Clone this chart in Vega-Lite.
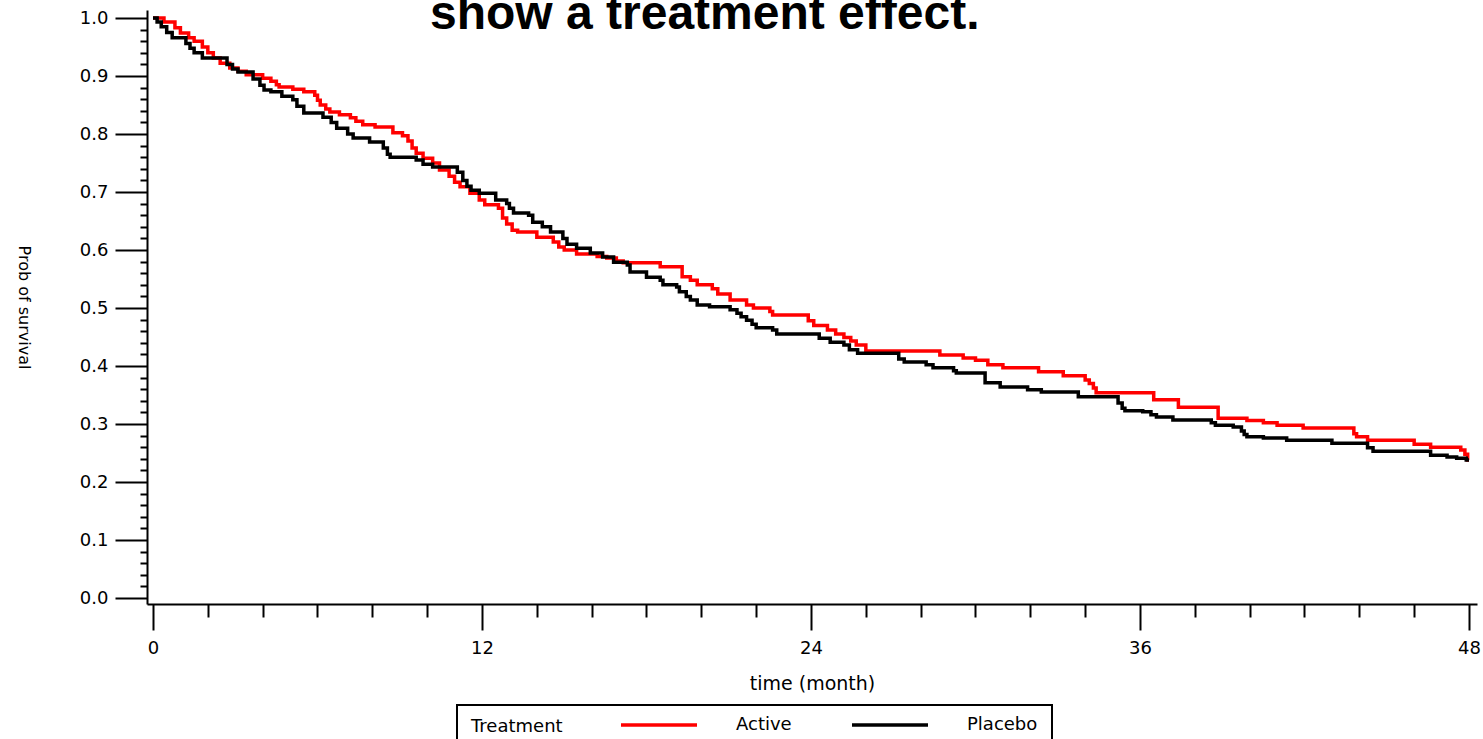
{
  "$schema": "https://vega.github.io/schema/vega-lite/v6.json",
  "width": 1330,
  "height": 594,
  "autosize": {"type": "none"},
  "padding": {"left": 147, "top": 10, "right": 6, "bottom": 135},
  "background": "white",
  "view": {"stroke": null},
  "config": {"legend": {"strokeWidth": 2}},
  "title": {
    "text": "show a treatment effect.",
    "font": "Liberation Sans",
    "fontSize": 48,
    "fontWeight": "bold",
    "color": "black",
    "anchor": "start",
    "frame": "group",
    "dx": 283,
    "offset": -68,
    "baseline": "alphabetic"
  },
  "data": {
    "values": [
      {"group": "Active", "t": 0, "s": 1.0},
      {"group": "Active", "t": 0.4, "s": 0.993},
      {"group": "Active", "t": 0.8, "s": 0.983},
      {"group": "Active", "t": 1.0, "s": 0.974},
      {"group": "Active", "t": 1.3, "s": 0.966},
      {"group": "Active", "t": 1.5, "s": 0.96},
      {"group": "Active", "t": 1.8, "s": 0.95},
      {"group": "Active", "t": 2.0, "s": 0.94},
      {"group": "Active", "t": 2.2, "s": 0.931},
      {"group": "Active", "t": 2.45, "s": 0.922},
      {"group": "Active", "t": 2.8, "s": 0.914},
      {"group": "Active", "t": 3.1, "s": 0.908},
      {"group": "Active", "t": 3.4, "s": 0.902},
      {"group": "Active", "t": 4.0, "s": 0.896},
      {"group": "Active", "t": 4.3, "s": 0.891},
      {"group": "Active", "t": 4.5, "s": 0.885},
      {"group": "Active", "t": 4.6, "s": 0.881},
      {"group": "Active", "t": 5.1, "s": 0.877},
      {"group": "Active", "t": 5.5, "s": 0.873},
      {"group": "Active", "t": 5.9, "s": 0.867},
      {"group": "Active", "t": 6.0, "s": 0.858},
      {"group": "Active", "t": 6.1, "s": 0.85},
      {"group": "Active", "t": 6.3, "s": 0.843},
      {"group": "Active", "t": 6.45, "s": 0.838},
      {"group": "Active", "t": 6.8, "s": 0.833},
      {"group": "Active", "t": 7.2, "s": 0.828},
      {"group": "Active", "t": 7.4, "s": 0.822},
      {"group": "Active", "t": 7.65, "s": 0.816},
      {"group": "Active", "t": 8.1, "s": 0.812},
      {"group": "Active", "t": 8.75, "s": 0.802},
      {"group": "Active", "t": 9.1, "s": 0.797},
      {"group": "Active", "t": 9.3, "s": 0.788},
      {"group": "Active", "t": 9.45, "s": 0.776},
      {"group": "Active", "t": 9.6, "s": 0.767},
      {"group": "Active", "t": 9.85, "s": 0.758},
      {"group": "Active", "t": 10.2, "s": 0.75},
      {"group": "Active", "t": 10.45, "s": 0.738},
      {"group": "Active", "t": 10.8, "s": 0.727},
      {"group": "Active", "t": 11.0, "s": 0.717},
      {"group": "Active", "t": 11.2, "s": 0.709},
      {"group": "Active", "t": 11.56, "s": 0.698},
      {"group": "Active", "t": 11.9, "s": 0.686},
      {"group": "Active", "t": 12.1, "s": 0.678},
      {"group": "Active", "t": 12.6, "s": 0.672},
      {"group": "Active", "t": 12.75, "s": 0.655},
      {"group": "Active", "t": 12.9, "s": 0.645},
      {"group": "Active", "t": 13.1, "s": 0.634},
      {"group": "Active", "t": 13.3, "s": 0.631},
      {"group": "Active", "t": 14.0, "s": 0.622},
      {"group": "Active", "t": 14.6, "s": 0.614},
      {"group": "Active", "t": 14.8, "s": 0.605},
      {"group": "Active", "t": 15.0, "s": 0.6},
      {"group": "Active", "t": 15.45, "s": 0.593},
      {"group": "Active", "t": 16.2, "s": 0.589},
      {"group": "Active", "t": 16.55, "s": 0.586},
      {"group": "Active", "t": 16.9, "s": 0.581},
      {"group": "Active", "t": 17.15, "s": 0.578},
      {"group": "Active", "t": 18.5, "s": 0.571},
      {"group": "Active", "t": 19.3, "s": 0.554},
      {"group": "Active", "t": 19.6, "s": 0.548},
      {"group": "Active", "t": 19.85, "s": 0.54},
      {"group": "Active", "t": 20.4, "s": 0.533},
      {"group": "Active", "t": 20.6, "s": 0.524},
      {"group": "Active", "t": 21.05, "s": 0.514},
      {"group": "Active", "t": 21.65, "s": 0.505},
      {"group": "Active", "t": 21.9, "s": 0.5},
      {"group": "Active", "t": 22.5, "s": 0.494},
      {"group": "Active", "t": 22.6, "s": 0.488},
      {"group": "Active", "t": 23.9, "s": 0.478},
      {"group": "Active", "t": 24.1, "s": 0.47},
      {"group": "Active", "t": 24.6, "s": 0.462},
      {"group": "Active", "t": 24.9, "s": 0.455},
      {"group": "Active", "t": 25.2, "s": 0.449},
      {"group": "Active", "t": 25.45, "s": 0.443},
      {"group": "Active", "t": 25.65, "s": 0.436},
      {"group": "Active", "t": 26.0, "s": 0.426},
      {"group": "Active", "t": 28.7, "s": 0.419},
      {"group": "Active", "t": 29.55, "s": 0.414},
      {"group": "Active", "t": 30.0, "s": 0.41},
      {"group": "Active", "t": 30.45, "s": 0.402},
      {"group": "Active", "t": 31.0, "s": 0.397},
      {"group": "Active", "t": 32.3, "s": 0.39},
      {"group": "Active", "t": 33.2, "s": 0.383},
      {"group": "Active", "t": 34.0, "s": 0.376},
      {"group": "Active", "t": 34.15, "s": 0.37},
      {"group": "Active", "t": 34.3, "s": 0.362},
      {"group": "Active", "t": 34.4, "s": 0.354},
      {"group": "Active", "t": 36.5, "s": 0.342},
      {"group": "Active", "t": 37.4, "s": 0.329},
      {"group": "Active", "t": 38.85, "s": 0.31},
      {"group": "Active", "t": 39.9, "s": 0.306},
      {"group": "Active", "t": 40.5, "s": 0.302},
      {"group": "Active", "t": 41.0, "s": 0.298},
      {"group": "Active", "t": 41.95, "s": 0.293},
      {"group": "Active", "t": 43.8, "s": 0.283},
      {"group": "Active", "t": 43.9, "s": 0.278},
      {"group": "Active", "t": 44.3, "s": 0.272},
      {"group": "Active", "t": 46.0, "s": 0.265},
      {"group": "Active", "t": 46.6, "s": 0.26},
      {"group": "Active", "t": 47.7, "s": 0.255},
      {"group": "Active", "t": 47.85, "s": 0.248},
      {"group": "Active", "t": 47.95, "s": 0.238},
      {"group": "Active", "t": 48.0, "s": 0.238},
      {"group": "Placebo", "t": 0, "s": 1.0},
      {"group": "Placebo", "t": 0.15, "s": 0.993},
      {"group": "Placebo", "t": 0.3, "s": 0.985},
      {"group": "Placebo", "t": 0.5, "s": 0.975},
      {"group": "Placebo", "t": 0.7, "s": 0.966},
      {"group": "Placebo", "t": 1.2, "s": 0.956},
      {"group": "Placebo", "t": 1.35, "s": 0.948},
      {"group": "Placebo", "t": 1.5, "s": 0.94},
      {"group": "Placebo", "t": 1.8, "s": 0.931},
      {"group": "Placebo", "t": 2.7, "s": 0.92},
      {"group": "Placebo", "t": 2.9, "s": 0.912},
      {"group": "Placebo", "t": 3.1, "s": 0.907},
      {"group": "Placebo", "t": 3.65, "s": 0.895},
      {"group": "Placebo", "t": 3.9, "s": 0.884},
      {"group": "Placebo", "t": 4.05, "s": 0.876},
      {"group": "Placebo", "t": 4.3, "s": 0.873},
      {"group": "Placebo", "t": 4.7, "s": 0.865},
      {"group": "Placebo", "t": 5.1, "s": 0.859},
      {"group": "Placebo", "t": 5.25, "s": 0.848},
      {"group": "Placebo", "t": 5.5, "s": 0.836},
      {"group": "Placebo", "t": 6.2, "s": 0.829},
      {"group": "Placebo", "t": 6.5, "s": 0.82},
      {"group": "Placebo", "t": 6.7, "s": 0.81},
      {"group": "Placebo", "t": 7.1, "s": 0.8},
      {"group": "Placebo", "t": 7.3, "s": 0.793},
      {"group": "Placebo", "t": 7.9, "s": 0.786},
      {"group": "Placebo", "t": 8.4, "s": 0.776},
      {"group": "Placebo", "t": 8.55, "s": 0.765},
      {"group": "Placebo", "t": 8.65, "s": 0.76},
      {"group": "Placebo", "t": 9.6, "s": 0.755},
      {"group": "Placebo", "t": 9.85, "s": 0.748},
      {"group": "Placebo", "t": 10.2, "s": 0.743},
      {"group": "Placebo", "t": 11.1, "s": 0.734},
      {"group": "Placebo", "t": 11.3, "s": 0.72},
      {"group": "Placebo", "t": 11.45, "s": 0.71},
      {"group": "Placebo", "t": 11.6, "s": 0.703},
      {"group": "Placebo", "t": 11.9, "s": 0.698},
      {"group": "Placebo", "t": 12.5, "s": 0.686},
      {"group": "Placebo", "t": 12.9, "s": 0.68},
      {"group": "Placebo", "t": 13.0, "s": 0.672},
      {"group": "Placebo", "t": 13.15, "s": 0.664},
      {"group": "Placebo", "t": 13.7, "s": 0.66},
      {"group": "Placebo", "t": 13.85, "s": 0.648},
      {"group": "Placebo", "t": 14.2, "s": 0.64},
      {"group": "Placebo", "t": 14.5, "s": 0.631},
      {"group": "Placebo", "t": 14.95, "s": 0.62},
      {"group": "Placebo", "t": 15.1, "s": 0.61},
      {"group": "Placebo", "t": 15.45, "s": 0.603},
      {"group": "Placebo", "t": 15.95, "s": 0.595},
      {"group": "Placebo", "t": 16.4, "s": 0.588},
      {"group": "Placebo", "t": 16.8, "s": 0.579},
      {"group": "Placebo", "t": 17.3, "s": 0.574},
      {"group": "Placebo", "t": 17.4, "s": 0.562},
      {"group": "Placebo", "t": 18.0, "s": 0.553},
      {"group": "Placebo", "t": 18.5, "s": 0.548},
      {"group": "Placebo", "t": 18.6, "s": 0.54},
      {"group": "Placebo", "t": 19.1, "s": 0.536},
      {"group": "Placebo", "t": 19.2, "s": 0.528},
      {"group": "Placebo", "t": 19.45, "s": 0.52},
      {"group": "Placebo", "t": 19.6, "s": 0.514},
      {"group": "Placebo", "t": 19.85, "s": 0.505},
      {"group": "Placebo", "t": 20.3, "s": 0.502},
      {"group": "Placebo", "t": 21.05, "s": 0.497},
      {"group": "Placebo", "t": 21.3, "s": 0.491},
      {"group": "Placebo", "t": 21.45, "s": 0.485},
      {"group": "Placebo", "t": 21.65, "s": 0.479},
      {"group": "Placebo", "t": 21.85, "s": 0.472},
      {"group": "Placebo", "t": 22.0, "s": 0.466},
      {"group": "Placebo", "t": 22.6, "s": 0.462},
      {"group": "Placebo", "t": 22.75, "s": 0.455},
      {"group": "Placebo", "t": 24.3, "s": 0.448},
      {"group": "Placebo", "t": 24.7, "s": 0.441},
      {"group": "Placebo", "t": 25.2, "s": 0.436},
      {"group": "Placebo", "t": 25.4, "s": 0.428},
      {"group": "Placebo", "t": 25.7, "s": 0.422},
      {"group": "Placebo", "t": 27.2, "s": 0.412},
      {"group": "Placebo", "t": 27.4, "s": 0.407},
      {"group": "Placebo", "t": 28.2, "s": 0.402},
      {"group": "Placebo", "t": 28.45, "s": 0.397},
      {"group": "Placebo", "t": 29.2, "s": 0.392},
      {"group": "Placebo", "t": 29.3, "s": 0.388},
      {"group": "Placebo", "t": 30.35, "s": 0.371},
      {"group": "Placebo", "t": 30.9, "s": 0.364},
      {"group": "Placebo", "t": 31.9, "s": 0.359},
      {"group": "Placebo", "t": 32.4, "s": 0.355},
      {"group": "Placebo", "t": 33.75, "s": 0.347},
      {"group": "Placebo", "t": 35.2, "s": 0.336},
      {"group": "Placebo", "t": 35.35, "s": 0.327},
      {"group": "Placebo", "t": 35.45, "s": 0.323},
      {"group": "Placebo", "t": 36.1, "s": 0.321},
      {"group": "Placebo", "t": 36.4, "s": 0.316},
      {"group": "Placebo", "t": 36.6, "s": 0.312},
      {"group": "Placebo", "t": 37.2, "s": 0.307},
      {"group": "Placebo", "t": 38.6, "s": 0.302},
      {"group": "Placebo", "t": 38.75, "s": 0.298},
      {"group": "Placebo", "t": 39.4, "s": 0.295},
      {"group": "Placebo", "t": 39.7, "s": 0.288},
      {"group": "Placebo", "t": 39.8, "s": 0.282},
      {"group": "Placebo", "t": 39.9, "s": 0.278},
      {"group": "Placebo", "t": 40.5, "s": 0.276},
      {"group": "Placebo", "t": 41.35, "s": 0.272},
      {"group": "Placebo", "t": 43.0, "s": 0.267},
      {"group": "Placebo", "t": 44.3, "s": 0.259},
      {"group": "Placebo", "t": 44.5, "s": 0.253},
      {"group": "Placebo", "t": 46.6, "s": 0.246},
      {"group": "Placebo", "t": 47.2, "s": 0.243},
      {"group": "Placebo", "t": 47.55, "s": 0.241},
      {"group": "Placebo", "t": 47.9, "s": 0.238},
      {"group": "Placebo", "t": 48.0, "s": 0.238}
    ]
  },
  "mark": {"type": "line", "interpolate": "step-after", "strokeWidth": 3.5},
  "encoding": {
    "x": {
      "field": "t",
      "type": "quantitative",
      "title": "time (month)",
      "scale": {"domain": [-0.2188, 48.2918], "nice": false, "zero": false},
      "axis": {
        "values": [0, 2, 4, 6, 8, 10, 12, 14, 16, 18, 20, 22, 24, 26, 28, 30, 32, 34, 36, 38, 40, 42, 44, 46, 48],
        "labelExpr": "datum.value % 12 === 0 ? format(datum.value, 'd') : ''",
        "tickSize": {"condition": {"test": "datum.value % 12 === 0", "value": 26}, "value": 13},
        "labelPadding": 9,
        "labelFont": "DejaVu Sans",
        "labelFontSize": 18,
        "labelColor": "black",
        "labelFlush": false,
        "labelBound": false,
        "labelOverlap": false,
        "titleFont": "DejaVu Sans",
        "titleFontSize": 19,
        "titleFontWeight": "normal",
        "titleColor": "black",
        "titlePadding": 17,
        "domainColor": "black",
        "domainWidth": 2,
        "tickColor": "black",
        "tickWidth": 2,
        "grid": false
      }
    },
    "y": {
      "field": "s",
      "type": "quantitative",
      "title": "Prob of survival",
      "scale": {"domain": [-0.01034, 1.0138], "nice": false, "zero": false},
      "axis": {
        "values": [0, 0.02, 0.04, 0.06, 0.08, 0.1, 0.12, 0.14, 0.16, 0.18, 0.2, 0.22, 0.24, 0.26, 0.28, 0.3, 0.32, 0.34, 0.36, 0.38, 0.4, 0.42, 0.44, 0.46, 0.48, 0.5, 0.52, 0.54, 0.56, 0.58, 0.6, 0.62, 0.64, 0.66, 0.68, 0.7, 0.72, 0.74, 0.76, 0.78, 0.8, 0.82, 0.84, 0.86, 0.88, 0.9, 0.92, 0.94, 0.96, 0.98, 1.0],
        "labelExpr": "round(datum.value * 50) % 5 === 0 ? format(datum.value, '.1f') : ''",
        "tickSize": {"condition": {"test": "round(datum.value * 50) % 5 === 0", "value": 32}, "value": 7},
        "labelPadding": 7,
        "labelFont": "DejaVu Sans",
        "labelFontSize": 18,
        "labelColor": "black",
        "labelFlush": false,
        "labelBound": false,
        "labelOverlap": false,
        "titleFont": "DejaVu Sans",
        "titleFontSize": 16,
        "titleFontWeight": "normal",
        "titleColor": "black",
        "titleAngle": 90,
        "titleX": -124,
        "titleY": 297,
        "titleAlign": "center",
        "titleBaseline": "middle",
        "domainColor": "black",
        "domainWidth": 2,
        "tickColor": "black",
        "tickWidth": 2,
        "grid": false
      }
    },
    "color": {
      "field": "group",
      "type": "nominal",
      "scale": {"domain": ["Active", "Placebo"], "range": ["#ff0000", "#000000"]},
      "legend": {
        "title": "Treatment",
        "orient": "none",
        "legendX": 310,
        "legendY": 695,
        "direction": "horizontal",
        "titleOrient": "left",
        "titleFont": "DejaVu Sans",
        "titleFontSize": 18,
        "titleFontWeight": "normal",
        "titleColor": "black",
        "titlePadding": 56,
        "titleBaseline": "middle",
        "labelFont": "DejaVu Sans",
        "labelFontSize": 18,
        "labelColor": "black",
        "labelOffset": 37,
        "columnPadding": 58,
        "symbolType": "stroke",
        "symbolSize": 5776,
        "symbolStrokeWidth": 3.5,
        "clipHeight": 12,
        "padding": 14,
        "strokeColor": "black"
      }
    }
  }
}
